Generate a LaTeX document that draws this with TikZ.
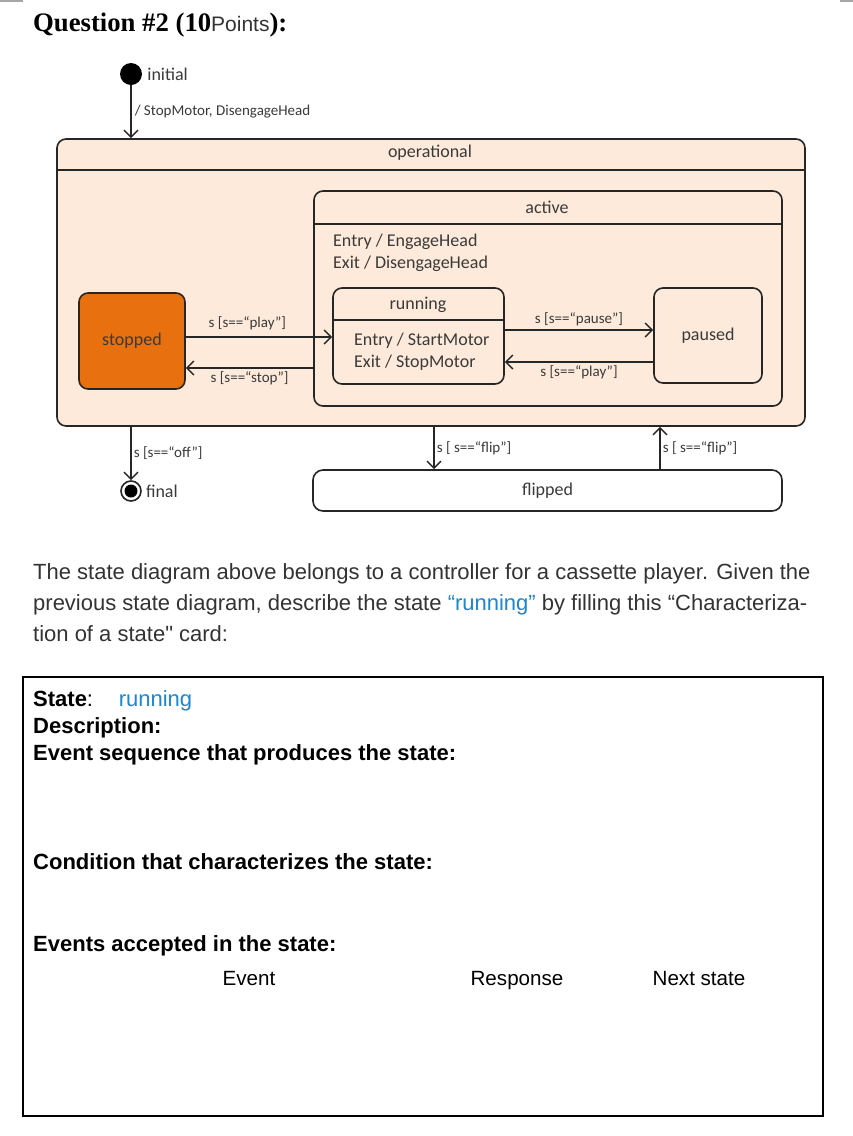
\documentclass[tikz,border=0pt]{standalone}
\usepackage{fontspec}
\setmainfont{Liberation Sans}
\newfontfamily\titlefont{Liberation Serif}
\newfontfamily\umlfont{Carlito}
\usetikzlibrary{arrows.meta, positioning, calc}
\definecolor{peach}{HTML}{FDEADA}
\definecolor{umlorange}{HTML}{E9700F}
\definecolor{umltext}{HTML}{3A3A3A}
\definecolor{linkblue}{HTML}{1C86D1}
\definecolor{paratext}{HTML}{333333}

\begin{document}
\begin{tikzpicture}[x=1pt, y=-1pt,
  state/.style={rectangle, rounded corners=9pt, draw=black!85, line width=1.6pt, inner sep=0pt},
  superstate/.style={state, fill=peach},
  caption/.style={font=\umlfont\fontsize{18}{22}\selectfont, text=umltext, inner sep=1pt},
  trans/.style={-{Straight Barb[length=7pt, width=14pt, line width=1.4pt]}, line width=1.6pt, draw=black!85},
  guard/.style={font=\umlfont\fontsize{15}{17}\selectfont, text=umltext, inner sep=2pt},
  para/.style={font=\fontsize{22}{31}\selectfont, text=paratext, anchor=base west, inner sep=0pt},
  cardline/.style={font=\bfseries\fontsize{22}{27}\selectfont, anchor=base west, inner sep=0pt},
  column/.style={font=\fontsize{20.6}{24}\selectfont, anchor=base, inner sep=0pt},
]
\useasboundingbox (0,0) rectangle (853,1136);
\fill[white] (0,0) rectangle (853,1136);
\draw[black!35, line width=1.2pt] (0,1) -- (23,1) (840,1) -- (853,1);

% title
\node[anchor=base west, inner sep=0pt, font=\titlefont\bfseries\fontsize{26.7}{30}\selectfont] (title) at (33,31)
  {Question \#2 (10{\normalfont\fontsize{21}{24}\selectfont\color{paratext}Points}):};

% levels of the header lines and transitions
\coordinate (operHead)   at (0,170);
\coordinate (activeHead) at (0,224);
\coordinate (runHead)    at (0,320);
\coordinate (playY)      at (0,337);
\coordinate (stopY)      at (0,368);
\coordinate (pauseY)     at (0,330);
\coordinate (resumeY)    at (0,362);
\coordinate (flipDownX)  at (434,0);
\coordinate (flipUpX)    at (660,0);

% states
\node[circle, fill=black, minimum size=22pt, inner sep=0pt] (init) at (131,74) {};
\node[caption, right=4pt of init] (initName) {initial};

\node[superstate, minimum width=748pt, minimum height=287pt] (oper) at (431,282.5) {};
\node[caption] (operName) at (430,153) {operational};
\draw[line width=1.6pt, black!85] (oper.west |- operHead) -- (oper.east |- operHead);

\node[state, minimum width=468pt, minimum height=215pt] (active) at (548,298.5) {};
\node[caption] (activeName) at (547,207) {active};
\draw[line width=1.6pt, black!85] (active.west |- activeHead) -- (active.east |- activeHead);
\node[caption, anchor=north west, align=left] (activeDo) at (332,233) {Entry / EngageHead\\Exit / DisengageHead};

\node[state, minimum width=171pt, minimum height=96pt] (running) at (418.5,336) {};
\node[caption] (runName) at (418,305) {running};
\draw[line width=1.6pt, black!85] (running.west |- runHead) -- (running.east |- runHead);
\node[caption, anchor=west, align=left] (runDo) at (353,351.5) {Entry / StartMotor\\Exit / StopMotor};

\node[state, caption, draw=black!85, minimum width=108pt, minimum height=95pt] (paused) at (708,335.5) {paused};
\node[state, caption, draw=black!85, fill=umlorange, minimum width=106pt, minimum height=96pt] (stopped) at (132,341) {stopped};
\node[state, caption, draw=black!85, rounded corners=10pt, minimum width=469pt, minimum height=41pt] (flipped) at (547.5,490.5) {flipped};

\node[circle, draw=black!85, line width=1.6pt, minimum size=20pt, inner sep=0pt] (final) at (131,491) {};
\fill[black] (final.center) circle (6.5pt);
\node[caption, right=3pt of final] (finalName) {final};

% transitions
\draw[trans] (init) -- (init |- oper.north)
  node[midway, right, guard, xshift=1pt] {/ StopMotor, DisengageHead};
\draw[trans] (stopped.east |- playY) -- (running.west |- playY)
  node[pos=0.42, above=4pt, guard] {s [s==\textquotedblleft play\textquotedblright]};
\draw[trans] (active.west |- stopY) -- (stopped.east |- stopY)
  node[midway, below=1pt, guard] {s [s==\textquotedblleft stop\textquotedblright]};
\draw[trans] (running.east |- pauseY) -- (paused.west |- pauseY)
  node[midway, above=1pt, guard] {s [s==\textquotedblleft pause\textquotedblright]};
\draw[trans] (paused.west |- resumeY) -- (running.east |- resumeY)
  node[midway, below=1pt, guard] {s [s==\textquotedblleft play\textquotedblright]};
\draw[trans] (final |- oper.south) -- (final.north)
  node[midway, right, guard] {s [s==\textquotedblleft off\textquotedblright]};
\draw[trans] (oper.south -| flipDownX) -- (flipped.north -| flipDownX)
  node[midway, right, guard] {s [ s==\textquotedblleft flip\textquotedblright]};
\draw[trans] (flipped.north -| flipUpX) -- (oper.south -| flipUpX)
  node[midway, right, guard] {s [ s==\textquotedblleft flip\textquotedblright]};

% question text
\node[para] (para1) at (33,579) {The state diagram above belongs to a controller for a cassette player. Given the};
\node[para] (para2) at (33,610) {previous state diagram, describe the state {\color{linkblue}\textquotedblleft running\textquotedblright} by filling this \textquotedblleft Characteriza-};
\node[para] (para3) at (33,641) {tion of a state{\addfontfeatures{Ligatures=TeXOff}"} card:};

% card
\node[draw, line width=1.5pt, minimum width=800pt, minimum height=439pt, inner sep=0pt] (card) at (423,896.5) {};
\node[cardline] (cardState) at (33,706) {State{\mdseries:}\quad\,{\mdseries\color{linkblue}running}};
\node[cardline] (cardDesc)  at (33,733) {Description:};
\node[cardline] (cardSeq)   at (33,760) {Event sequence that produces the state:};
\node[cardline] (cardCond)  at (33,869) {Condition that characterizes the state:};
\node[cardline] (cardAcc)   at (33,951) {Events accepted in the state:};
\node[column] (colEvent)    at (249,985) {Event};
\node[column] (colResponse) at (517,985) {Response};
\node[column] (colNext)     at (699,985) {Next state};
\end{tikzpicture}
\end{document}
